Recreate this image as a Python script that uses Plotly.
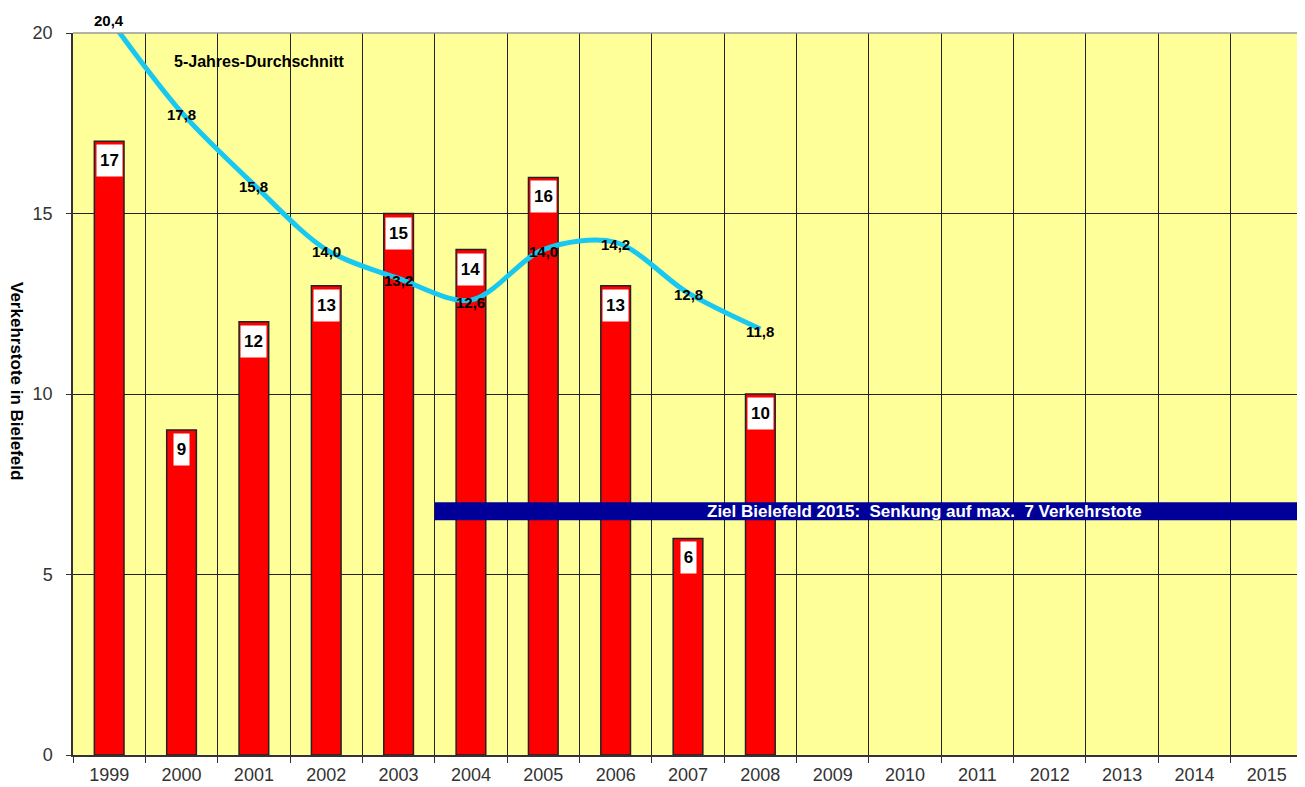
import plotly.graph_objects as go

years = [str(y) for y in range(1999, 2016)]
bar_years = [str(y) for y in range(1999, 2009)]
deaths = [17, 9, 12, 13, 15, 14, 16, 13, 6, 10]
avg5 = [20.4, 17.8, 15.8, 14.0, 13.2, 12.6, 14.0, 14.2, 12.8, 11.8]
avg_labels = [f"{v:.1f}".replace(".", ",") for v in avg5]
target_low, target_high = 6.5, 7.0
target_text = "Ziel Bielefeld 2015:  Senkung auf max.  7 Verkehrstote"

FONT = "Liberation Sans, Arial, sans-serif"
Y_MAX = 20
FIG_H, M_T, M_B = 779, 25, 30
PX_PER_UNIT = (FIG_H - M_T - M_B) / Y_MAX

fig = go.Figure()
fig.add_trace(go.Bar(
    x=bar_years, y=deaths, width=0.41,
    marker=dict(color="#FF0000", line=dict(color="#222222", width=1.5)),
    hoverinfo="skip", showlegend=False,
))
fig.add_trace(go.Scatter(
    x=bar_years, y=avg5, mode="lines",
    line=dict(color="#19C8F0", width=5, shape="spline", smoothing=0.9),
    showlegend=False, hoverinfo="skip",
))

# labels on the average line (points above the axis range are shifted in pixels)
for yr, v, lab in zip(bar_years, avg5, avg_labels):
    y_anchor = min(v, Y_MAX)
    fig.add_annotation(
        x=years.index(yr), y=y_anchor, xref="x", yref="y", text=f"<b>{lab}</b>",
        yshift=(v - y_anchor) * PX_PER_UNIT - 2,
        showarrow=False, font=dict(family=FONT, size=15, color="black"),
    )

# value boxes on bars
for yr, v in zip(bar_years, deaths):
    s = str(v)
    fig.add_annotation(
        x=years.index(yr), y=v, xref="x", yref="y", text=f"<b>{s}</b>",
        showarrow=False, yanchor="top", yshift=-3, bgcolor="white",
        width=10 * len(s) + 3, height=29, borderpad=1,
        font=dict(family=FONT, size=17, color="black"),
    )

# target band
fig.add_shape(type="rect", xref="x", yref="y", x0=4.5, x1=16.5,
              y0=target_low, y1=target_high, fillcolor="#000099",
              line=dict(width=0), layer="above")
fig.add_annotation(x=14.3, y=(target_low + target_high) / 2, xref="x", yref="y",
                   text=f"<b>{target_text}</b>", showarrow=False, xanchor="right",
                   font=dict(family=FONT, size=17, color="white"))

fig.add_annotation(x=2.07, y=19.2, xref="x", yref="y",
                   text="<b>5-Jahres-Durchschnitt</b>", showarrow=False,
                   font=dict(family=FONT, size=16, color="black"))

fig.add_annotation(x=0, y=0.5, xref="paper", yref="paper", xshift=-56, yshift=13,
                   xanchor="center", yanchor="middle",
                   text="<b>Verkehrstote in Bielefeld</b>", showarrow=False,
                   textangle=90, font=dict(family=FONT, size=17, color="black"))

fig.update_layout(
    width=1297, height=FIG_H,
    margin=dict(l=65, r=2, t=M_T, b=M_B),
    paper_bgcolor="white", plot_bgcolor="#FFFF99",
    xaxis=dict(type="category", categoryorder="array", categoryarray=years,
               range=[-0.5, 16.5], tickson="boundaries", showgrid=True,
               gridcolor="#222222", gridwidth=1, ticks="outside", ticklen=6,
               tickcolor="#333333", showline=True, linecolor="#333333",
               linewidth=1.5, mirror=False, ticklabelstandoff=3,
               tickfont=dict(family=FONT, size=18, color="#333333")),
    yaxis=dict(range=[0, Y_MAX], tickvals=[0, 5, 10, 15, 20], showgrid=True,
               gridcolor="#222222", gridwidth=1, ticks="outside", ticklen=5,
               tickcolor="#333333", showline=True, linecolor="#333333",
               linewidth=1.5, zeroline=False, ticklabelstandoff=10,
               tickfont=dict(family=FONT, size=18, color="#333333")),
)
fig.add_shape(type="line", xref="paper", yref="paper", x0=0, x1=1, y0=1, y1=1,
              line=dict(color="#999999", width=1.5))
fig.add_shape(type="line", xref="paper", yref="paper", x0=1, x1=1, y0=0, y1=1,
              line=dict(color="#333333", width=2))

fig.write_html("out.html")
